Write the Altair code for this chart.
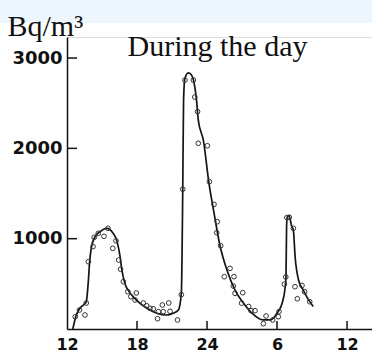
import altair as alt
import pandas as pd

# Smooth curve (hours since noon of day 1 -> 12..36, values Bq/m3)
curve_hour = [12.5, 12.75, 13.1, 13.65, 13.8, 13.95, 14.1, 14.4, 14.8, 15.4, 15.95, 16.3, 16.55, 16.7,
              16.95, 17.4, 17.95, 18.85, 19.7, 20.55, 21.1, 21.55, 21.8, 21.92, 21.99, 22.1, 22.4, 22.65,
              22.9, 23.1, 23.25, 23.7, 24.15, 24.6, 25.1, 25.7, 26.4, 27.1, 27.85, 28.8, 29.4, 30.0,
              30.45, 30.7, 30.77, 30.82, 30.9, 31.03, 31.25, 31.4, 31.55, 31.85, 32.25, 32.6, 33.1]
curve_val = [0, 135, 230, 300, 480, 760, 910, 1020, 1075, 1115, 1060, 965, 800, 655,
             510, 400, 320, 230, 175, 155, 175, 210, 400, 1540, 2530, 2770, 2835, 2815,
             2720, 2535, 2315, 2080, 1630, 1285, 930, 655, 430, 290, 175, 100, 100, 175,
             290, 465, 580, 1150, 1245, 1255, 1140, 1095, 800, 540, 430, 345, 250]

# Measured points (open circles)
pt_hour = [12.71, 13.07, 13.54, 13.65, 13.83, 14.23, 14.33, 14.68, 15.17, 15.51, 15.92, 16.2, 16.43,
           16.59, 16.83, 17.21, 17.47, 17.94, 17.83, 18.54, 18.83, 19.11, 19.4, 19.83, 19.76, 20.17,
           20.72, 20.25, 20.83, 21.47, 21.8, 21.92,
           22.11, 22.83, 22.95, 23.19, 23.25, 24.03, 24.2, 24.6, 24.88, 24.83, 25.17, 25.97, 25.48,
           26.31, 26.25, 27.06, 26.4, 26.96, 27.57, 27.77, 28.11, 28.83, 29.06, 29.63, 30.11, 30.17,
           30.63, 30.75, 30.84, 31.05, 31.4, 31.54, 31.74, 32.14, 32.36, 32.8]
pt_val = [136, 210, 155, 288, 745, 913, 1015, 1059, 1026, 1115, 893, 976, 764,
          662, 524, 413, 358, 399, 321, 288, 257, 229, 224, 192, 114, 266,
          288, 192, 196, 100, 380, 1547,
          2756, 2756, 2568, 2406, 2056, 2029, 1631, 1380, 1188, 1066, 922, 672, 579,
          579, 476, 402, 395, 286, 249, 203, 203, 59, 144, 100, 136, 192,
          496, 576, 1234, 1237, 1115, 468, 335, 482, 413, 302]

x_tick_values = [12, 18, 24, 30, 36]
x_inner_ticks = [18, 24, 30, 36]
y_tick_values = [1000, 2000, 3000]

curve_df = pd.DataFrame({"hour": curve_hour, "val": curve_val})
pt_df = pd.DataFrame({"hour": pt_hour, "val": pt_val})
xt_df = pd.DataFrame({"hour": x_inner_ticks})
yt_df = pd.DataFrame({"val": y_tick_values})

W, H = 305, 292
xscale = alt.Scale(domain=[12, 38.14], nice=False, zero=False)
yscale = alt.Scale(domain=[0, 3233], nice=False, zero=False)

xaxis = alt.Axis(values=x_tick_values,
                 labelExpr="datum.value > 24 ? datum.value - 24 : datum.value",
                 ticks=False, tickSize=0, labelPadding=7, labelFont="DejaVu Sans",
                 labelFontWeight="bold", labelFontSize=16, labelColor="#111",
                 domainColor="#111", domainWidth=1.5, grid=False, title=None,
                 labelFlush=False, labelOverlap=False, zindex=1)
xaxis_top = alt.Axis(orient="top", labels=False, ticks=False, domain=False, grid=False,
                     title="During the day", titleAngle=0, titleAlign="left",
                     titleBaseline="alphabetic", titleAnchor="start", titleX=60, titleY=18,
                     titleFont="Liberation Serif", titleFontSize=30, titleFontWeight="normal",
                     titleColor="#111", zindex=1)
yaxis = alt.Axis(values=y_tick_values, format="d", ticks=False, tickSize=0, labelPadding=5,
                 labelFont="DejaVu Sans", labelFontWeight="bold", labelFontSize=18,
                 labelColor="#111", domainColor="#111", domainWidth=1.5, grid=False,
                 title="Bq/m³", titleAngle=0, titleAlign="left", titleBaseline="alphabetic",
                 titleX=-60, titleY=-2, titleFont="Liberation Serif", titleFontSize=30,
                 titleFontWeight="normal", titleColor="#111", zindex=1)

band = alt.Chart(alt.Data(values=[{"a": 1}])).mark_rect(color="#edf5fd").encode(
    x=alt.value(-67), x2=alt.value(W), y=alt.value(-37), y2=alt.value(-14))

line = alt.Chart(curve_df).mark_line(color="#151515", strokeWidth=1.7, interpolate="monotone").encode(
    x=alt.X("hour:Q", scale=xscale, axis=xaxis),
    y=alt.Y("val:Q", scale=yscale, axis=yaxis))

pts = alt.Chart(pt_df).mark_point(shape="circle", filled=False, size=22, stroke="#333",
                                  strokeWidth=1, opacity=1).encode(
    x=alt.X("hour:Q", scale=xscale, axis=None),
    y=alt.Y("val:Q", scale=yscale, axis=yaxis))

xticks = alt.Chart(xt_df).mark_rule(color="#111", strokeWidth=1.5).encode(
    x=alt.X("hour:Q", scale=xscale, axis=xaxis_top), y=alt.value(H - 8), y2=alt.value(H))

yticks = alt.Chart(yt_df).mark_rule(color="#111", strokeWidth=1.5).encode(
    y=alt.Y("val:Q", scale=yscale, axis=yaxis), x=alt.value(0), x2=alt.value(10))

chart = alt.layer(band, line, pts, xticks, yticks).resolve_axis(x="independent").properties(
    width=W, height=H,
    autosize=alt.AutoSizeParams(type="none"),
    padding={"left": 67, "top": 37, "right": 0, "bottom": 23},
).configure_view(stroke=None).configure(background="white")

chart.save("out.html", embed_options={"renderer": "svg", "actions": False})
